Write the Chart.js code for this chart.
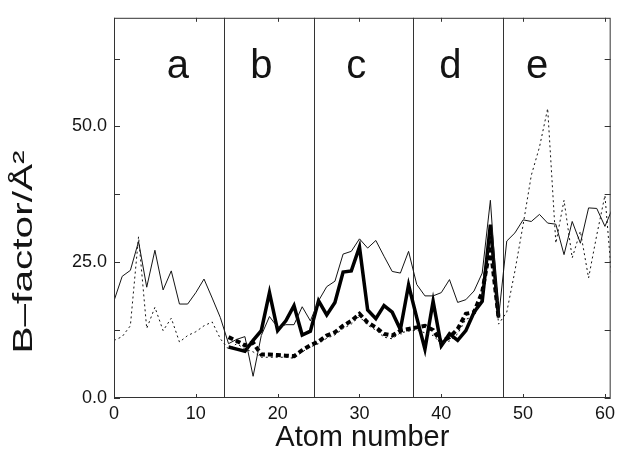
<!DOCTYPE html>
<html><head><meta charset="utf-8">
<script src="https://cdn.jsdelivr.net/npm/chart.js@4/dist/chart.umd.min.js"></script>
<style>html,body{margin:0;padding:0;background:#fff}#wrap{width:620px;height:452px}</style>
</head><body><div id="wrap"><canvas id="c" width="620" height="452"></canvas></div>
<script>
// ---- data ----
const atomsAll = [0,1,2,3,4,5,6,7,8,9,10,11,12,13,14,15,16,17,18,19,20,21,22,23,24,25,26,27,28,29,30,31,32,33,34,35,36,37,38,39,40,41,42,43,44,45,46,47,48,49,50,51,52,53,54,55,56,57,58,59,60,61];
const thinSolid = [17.9,22.4,23.5,28.8,20.4,27.2,19.9,23.4,17.3,17.3,19.4,21.9,18.4,14.8,10.0,10.8,11.3,4.0,11.5,15.0,13.0,13.5,13.5,16.8,14.2,17.9,20.5,21.5,26.5,27.0,29.3,27.6,29.0,26.1,23.3,23.0,27.0,20.9,18.8,18.8,19.4,21.8,17.6,18.1,19.7,23.0,36.4,14.8,28.9,30.4,32.8,32.5,33.8,32.2,32.0,26.4,32.5,28.5,35.0,34.9,31.6,35.2];
const thinDotted = [10.6,11.3,13.3,29.7,12.8,16.7,12.4,14.7,10.3,11.5,12.2,13.3,14.0,10.9,9.0,10.0,9.0,8.5,7.5,7.5,7.5,7.5,7.3,8.5,9.4,10.0,11.0,11.6,12.8,13.6,15.0,13.4,12.5,11.2,10.9,12.0,12.3,12.5,12.0,11.5,10.0,10.5,11.8,14.5,15.0,18.5,30.0,13.6,15.8,23.4,31.9,41.0,46.2,53.3,28.5,36.4,25.8,30.7,22.1,30.0,37.3,19.0];
const atomsCore = [14,15,16,17,18,19,20,21,22,23,24,25,26,27,28,29,30,31,32,33,34,35,36,37,38,39,40,41,42,43,44,45,46,47];
const thickSolid = [9.4,9.0,8.6,10.6,12.4,19.4,12.4,14.2,17.0,11.6,12.3,17.9,15.3,17.6,23.2,23.4,27.8,16.2,14.6,17.0,15.8,12.6,20.8,14.8,9.0,17.8,9.6,11.8,10.6,12.4,15.8,17.8,31.9,14.8];
const thickDashed = [11.2,10.5,9.7,10.2,8.0,8.0,7.9,7.8,7.7,8.8,9.7,10.4,11.5,12.1,13.3,14.2,15.5,13.9,13.0,11.8,11.5,12.4,12.7,13.0,13.3,12.5,10.3,11.2,12.7,15.5,15.8,19.5,28.0,14.8];
const boundaries = [13.5, 24.5, 36.5, 47.6];
const regionLabels = ['a','b','c','d','e'];
const regionLabelX = [7.8, 18.0, 29.6, 41.1, 51.7];
const regionLabelY = 61;
const xTickValues = [0,10,20,30,40,50,60];
const yTickValues = [0,12.5,25,37.5,50,62.5];
const yLabelValues = [0,25,50];
const xTitle = 'Atom number';
const yTitle = 'B\u2013factor/\u00C5\u00B2';

const FONT = "'Liberation Sans', Arial, sans-serif";
const INK = '#141414';
const pts = (xs, ys) => xs.map((x, i) => ({x: x, y: ys[i]}));

const decor = {
  id: 'decor',
  beforeDatasetsDraw(chart) {
    const {ctx, chartArea: a, scales: {x, y}} = chart;
    ctx.save();
    ctx.strokeStyle = '#333';
    ctx.lineWidth = 1;
    boundaries.forEach(b => {
      const px = Math.round(x.getPixelForValue(b)) + 0.5;
      ctx.beginPath(); ctx.moveTo(px, a.top); ctx.lineTo(px, a.bottom); ctx.stroke();
    });
    ctx.fillStyle = INK;
    ctx.font = '40px ' + FONT;
    ctx.textAlign = 'center'; ctx.textBaseline = 'middle';
    regionLabels.forEach((t, i) => ctx.fillText(t, x.getPixelForValue(regionLabelX[i]), y.getPixelForValue(regionLabelY)));
    ctx.restore();
  },
  afterDraw(chart) {
    const {ctx, chartArea: a, scales: {x, y}} = chart;
    ctx.save();
    ctx.strokeStyle = '#333';
    ctx.lineWidth = 1;
    ctx.strokeRect(a.left + 0.5, a.top + 0.5, a.right - a.left - 1, a.bottom - a.top - 1);
    y.ticks.forEach(t => {
      const py = Math.round(y.getPixelForValue(t.value)) + 0.5;
      ctx.beginPath();
      ctx.moveTo(a.left, py); ctx.lineTo(a.left + 6, py);
      ctx.moveTo(a.right, py); ctx.lineTo(a.right - 6, py);
      ctx.stroke();
    });
    x.ticks.forEach(t => {
      const px = Math.round(x.getPixelForValue(t.value)) + 0.5;
      ctx.beginPath();
      ctx.moveTo(px, a.bottom); ctx.lineTo(px, a.bottom - 4);
      ctx.moveTo(px, a.top); ctx.lineTo(px, a.top + 4);
      ctx.stroke();
    });
    ctx.fillStyle = INK;
    ctx.translate(24, 252);
    ctx.rotate(-Math.PI / 2);
    ctx.scale(1.45, 1);
    ctx.font = '28px ' + FONT;
    ctx.textAlign = 'center'; ctx.textBaseline = 'middle';
    ctx.fillText(yTitle, 0, 0);
    ctx.restore();
  }
};

new Chart(document.getElementById('c'), {
  type: 'line',
  data: {
    datasets: [
      {data: pts(atomsAll, thinSolid), borderColor: INK, borderWidth: 1, pointRadius: 0, tension: 0, fill: false},
      {data: pts(atomsAll, thinDotted), borderColor: INK, borderWidth: 1, borderDash: [2, 3], pointRadius: 0, tension: 0, fill: false},
      {data: pts(atomsCore, thickSolid), borderColor: '#000', borderWidth: 3.5, pointRadius: 0, tension: 0, fill: false},
      {data: pts(atomsCore, thickDashed), borderColor: '#000', borderWidth: 4, borderDash: [5, 3], pointRadius: 0, tension: 0, fill: false}
    ]
  },
  options: {
    responsive: false,
    devicePixelRatio: 1,
    animation: false,
    layout: {padding: {top: 14, right: 4, left: 0, bottom: 0}},
    plugins: {legend: {display: false}, tooltip: {enabled: false}},
    scales: {
      x: {
        type: 'linear', min: 0, max: 60.7,
        grid: {display: false, drawTicks: false},
        border: {display: false},
        afterBuildTicks: s => { s.ticks = xTickValues.map(v => ({value: v})); },
        ticks: {
          autoSkip: false, maxRotation: 0, padding: 5,
          color: INK, font: {family: FONT, size: 18},
          callback: v => String(v)
        },
        title: {display: true, text: xTitle, color: INK, font: {family: FONT, size: 29}, padding: {top: 0, bottom: -3}},
        afterFit: s => { s.height = 54; }
      },
      y: {
        min: 0, max: 70,
        grid: {display: false, drawTicks: false},
        border: {display: false},
        afterBuildTicks: s => { s.ticks = yTickValues.map(v => ({value: v})); },
        ticks: {
          autoSkip: false, padding: 7,
          color: INK, font: {family: FONT, size: 18},
          callback: v => (yLabelValues.includes(v) ? v.toFixed(1) : '')
        },
        afterFit: s => { s.width = 114; }
      }
    }
  },
  plugins: [decor]
});
</script>
</body></html>
